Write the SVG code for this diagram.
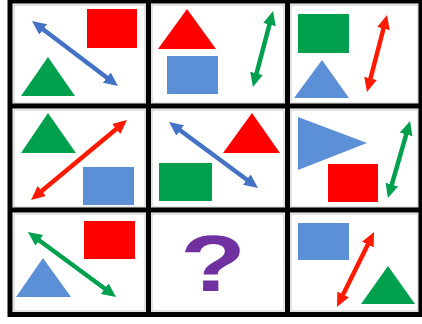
<svg xmlns="http://www.w3.org/2000/svg" width="422" height="324" viewBox="0 0 422 324">
<defs>
<style>
.red{fill:#FF0000}.grn{fill:#00A04F}.blu{fill:#5B8FD6}
.arr{stroke-width:4.5;fill:none}
.ab{stroke:#4472C4}.ag{stroke:#00A04F}.ar{stroke:#FF1A00}
.cell{fill:#fff;stroke:#c8c8c8;stroke-width:1}
.grid{fill:none;stroke:#000;stroke-width:5}
</style>
<marker id="hb" viewBox="0 0 14 13" refX="4" refY="6.5" markerWidth="14" markerHeight="13" markerUnits="userSpaceOnUse" orient="auto-start-reverse"><path d="M0,0 L14,6.5 L0,13 z" fill="#4472C4"/></marker>
<marker id="hg" viewBox="0 0 14 13" refX="4" refY="6.5" markerWidth="14" markerHeight="13" markerUnits="userSpaceOnUse" orient="auto-start-reverse"><path d="M0,0 L14,6.5 L0,13 z" fill="#00A04F"/></marker>
<marker id="hr" viewBox="0 0 14 13" refX="4" refY="6.5" markerWidth="14" markerHeight="13" markerUnits="userSpaceOnUse" orient="auto-start-reverse"><path d="M0,0 L14,6.5 L0,13 z" fill="#FF1A00"/></marker>
</defs>
<rect width="422" height="324" fill="#fff"/>
<g id="cell-backgrounds">
<rect class="cell" x="14" y="5" width="131" height="98"/>
<rect class="cell" x="152" y="5" width="132" height="98"/>
<rect class="cell" x="291" y="5" width="127" height="98"/>
<rect class="cell" x="14" y="110" width="131" height="97"/>
<rect class="cell" x="152" y="110" width="132" height="97"/>
<rect class="cell" x="291" y="110" width="127" height="97"/>
<rect class="cell" x="14" y="214" width="131" height="97"/>
<rect class="cell" x="152" y="214" width="132" height="97"/>
<rect class="cell" x="291" y="214" width="127" height="97"/>
</g>
<g id="cell-1-1">
<rect class="red" x="87" y="9" width="50" height="39"/>
<polygon class="grn" points="48,57 21,96 75,96"/>
<line class="arr ab" x1="40" y1="27" x2="110" y2="80" marker-start="url(#hb)" marker-end="url(#hb)"/>
</g>
<g id="cell-1-2">
<polygon class="red" points="187,9 158,49 216,49"/>
<rect class="blu" x="167" y="56" width="51" height="38"/>
<line class="arr ag" x1="270.5" y1="20.7" x2="255.5" y2="77.3" marker-start="url(#hg)" marker-end="url(#hg)"/>
</g>
<g id="cell-1-3">
<rect class="grn" x="298" y="14" width="51" height="39"/>
<polygon class="blu" points="322,60 294,98 349,98"/>
<line class="arr ar" x1="384.5" y1="24.7" x2="369.5" y2="82.3" marker-start="url(#hr)" marker-end="url(#hr)"/>
</g>
<g id="cell-2-1">
<polygon class="grn" points="48,113 21,153 76,153"/>
<rect class="blu" x="83" y="167" width="51" height="38"/>
<line class="arr ar" x1="119.3" y1="126.4" x2="38.7" y2="193.6" marker-start="url(#hr)" marker-end="url(#hr)"/>
</g>
<g id="cell-2-2">
<polygon class="red" points="252,113 223,153 280,153"/>
<rect class="grn" x="159" y="163" width="53" height="38"/>
<line class="arr ab" x1="177" y1="128" x2="250" y2="182" marker-start="url(#hb)" marker-end="url(#hb)"/>
</g>
<g id="cell-2-3">
<polygon class="blu" points="298,117 298,170 367,143"/>
<rect class="red" x="328" y="164" width="50" height="38"/>
<line class="arr ag" x1="407.3" y1="130.6" x2="390.7" y2="188.4" marker-start="url(#hg)" marker-end="url(#hg)"/>
</g>
<g id="cell-3-1">
<rect class="red" x="84" y="221" width="51" height="38"/>
<polygon class="blu" points="43,258 16,297 71,297"/>
<line class="arr ag" x1="36" y1="238" x2="108" y2="291" marker-start="url(#hg)" marker-end="url(#hg)"/>
</g>
<g id="cell-3-2">
<text x="213" y="291" transform="translate(213 0) scale(1.35 1) translate(-213 0)" font-family="'Liberation Sans', Arial, sans-serif" font-weight="bold" font-size="80" fill="#7030A0" text-anchor="middle">?</text>
</g>
<g id="cell-3-3">
<rect class="blu" x="298" y="223" width="51" height="37"/>
<polygon class="grn" points="388,266 361,304 415,304"/>
<line class="arr ar" x1="369.6" y1="241" x2="341.4" y2="298" marker-start="url(#hr)" marker-end="url(#hr)"/>
</g>
<g id="grid">
<rect class="grid" x="10" y="1" width="411" height="313.5"/>
<line class="grid" x1="148.5" y1="0" x2="148.5" y2="316"/>
<line class="grid" x1="287.5" y1="0" x2="287.5" y2="316"/>
<line class="grid" x1="8" y1="106" x2="422" y2="106"/>
<line class="grid" x1="8" y1="210" x2="422" y2="210"/>
</g>
</svg>
